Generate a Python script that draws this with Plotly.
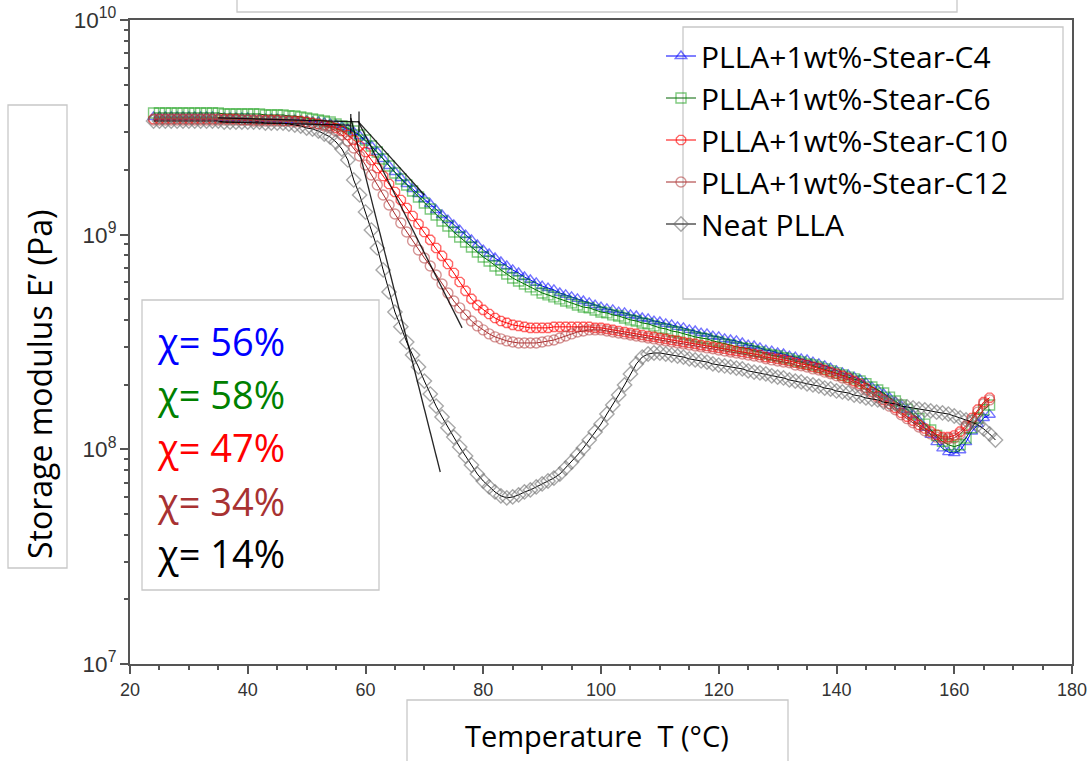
import plotly.graph_objects as go

# ---------------- data ----------------
# temperature grid (deg C)
temperature = [
    24, 25, 26, 27, 28, 29, 30, 31, 32, 33,
    34, 35, 36, 37, 38, 39, 40, 41, 42, 43,
    44, 45, 46, 47, 48, 49, 50, 51, 52, 53,
    54, 55, 56, 57, 58, 59, 60, 61, 62, 63,
    64, 65, 66, 67, 68, 69, 70, 71, 72, 73,
    74, 75, 76, 77, 78, 79, 80, 81, 82, 83,
    84, 85, 86, 87, 88, 89, 90, 91, 92, 93,
    94, 95, 96, 97, 98, 99, 100, 101, 102, 103,
    104, 105, 106, 107, 108, 109, 110, 111, 112, 113,
    114, 115, 116, 117, 118, 119, 120, 121, 122, 123,
    124, 125, 126, 127, 128, 129, 130, 131, 132, 133,
    134, 135, 136, 137, 138, 139, 140, 141, 142, 143,
    144, 145, 146, 147, 148, 149, 150, 151, 152, 153,
    154, 155, 156, 157, 158, 159, 160, 161, 162, 163,
    164, 165, 166,
]
temperature_neat = [
    24, 25, 26, 27, 28, 29, 30, 31, 32, 33,
    34, 35, 36, 37, 38, 39, 40, 41, 42, 43,
    44, 45, 46, 47, 48, 49, 50, 51, 52, 53,
    54, 55, 56, 57, 58, 59, 60, 61, 62, 63,
    64, 65, 66, 67, 68, 69, 70, 71, 72, 73,
    74, 75, 76, 77, 78, 79, 80, 81, 82, 83,
    84, 85, 86, 87, 88, 89, 90, 91, 92, 93,
    94, 95, 96, 97, 98, 99, 100, 101, 102, 103,
    104, 105, 106, 107, 108, 109, 110, 111, 112, 113,
    114, 115, 116, 117, 118, 119, 120, 121, 122, 123,
    124, 125, 126, 127, 128, 129, 130, 131, 132, 133,
    134, 135, 136, 137, 138, 139, 140, 141, 142, 143,
    144, 145, 146, 147, 148, 149, 150, 151, 152, 153,
    154, 155, 156, 157, 158, 159, 160, 161, 162, 163,
    164, 165, 166, 167,
]

# storage modulus E' in units of 1e8 Pa
E_C4 = [
    35.32, 35.32, 35.32, 35.32, 35.32, 35.32, 35.32, 35.32, 35.32, 35.32,
    35.32, 34.95, 34.95, 34.95, 34.95, 34.95, 34.95, 34.57, 34.57, 34.57,
    34.57, 34.57, 34.20, 34.20, 34.20, 33.84, 33.84, 33.48, 33.48, 33.12,
    32.77, 32.42, 31.73, 31.05, 30.08, 28.81, 27.31, 25.89, 24.27, 22.52,
    20.89, 19.58, 18.37, 17.22, 16.33, 15.47, 14.66, 13.90, 13.03, 12.35,
    11.70, 11.09, 10.51, 9.96, 9.45, 8.95, 8.48, 8.13, 7.79, 7.46,
    7.15, 6.85, 6.63, 6.35, 6.15, 5.96, 5.76, 5.64, 5.53, 5.35,
    5.24, 5.13, 5.02, 4.91, 4.81, 4.70, 4.60, 4.51, 4.46, 4.36,
    4.32, 4.23, 4.18, 4.09, 4.05, 3.96, 3.92, 3.84, 3.80, 3.72,
    3.68, 3.60, 3.56, 3.48, 3.45, 3.37, 3.34, 3.27, 3.23, 3.20,
    3.13, 3.06, 3.03, 2.97, 2.90, 2.87, 2.81, 2.78, 2.72, 2.69,
    2.64, 2.61, 2.55, 2.50, 2.45, 2.39, 2.32, 2.27, 2.22, 2.17,
    2.11, 2.04, 1.95, 1.89, 1.81, 1.74, 1.66, 1.59, 1.53, 1.45,
    1.36, 1.26, 1.17, 1.08, 1.01, 0.97, 0.96, 0.99, 1.08, 1.21,
    1.31, 1.40, 1.45,
]
E_C6 = [
    36.87, 36.87, 36.87, 36.87, 36.87, 36.87, 36.87, 36.87, 36.87, 36.87,
    36.87, 36.87, 36.48, 36.48, 36.48, 36.48, 36.48, 36.48, 36.48, 36.09,
    36.09, 36.09, 36.09, 35.70, 35.70, 35.32, 34.95, 34.57, 34.20, 33.84,
    33.48, 32.77, 32.07, 31.39, 30.40, 29.12, 27.61, 25.89, 24.27, 22.52,
    20.89, 19.38, 18.17, 17.04, 15.98, 14.98, 14.05, 13.17, 12.35, 11.58,
    10.97, 10.29, 9.75, 9.24, 8.76, 8.30, 7.87, 7.54, 7.15, 6.85,
    6.56, 6.28, 6.08, 5.89, 5.71, 5.53, 5.35, 5.24, 5.13, 5.02,
    4.91, 4.81, 4.70, 4.60, 4.56, 4.46, 4.36, 4.32, 4.23, 4.18,
    4.09, 4.01, 3.96, 3.88, 3.84, 3.76, 3.68, 3.64, 3.56, 3.52,
    3.45, 3.41, 3.34, 3.30, 3.27, 3.20, 3.16, 3.10, 3.06, 3.00,
    2.97, 2.94, 2.87, 2.84, 2.78, 2.75, 2.72, 2.67, 2.64, 2.58,
    2.55, 2.50, 2.47, 2.42, 2.37, 2.32, 2.27, 2.22, 2.17, 2.13,
    2.08, 2.02, 1.95, 1.89, 1.83, 1.75, 1.68, 1.61, 1.54, 1.46,
    1.39, 1.31, 1.23, 1.16, 1.09, 1.05, 1.03, 1.05, 1.13, 1.26,
    1.40, 1.53, 1.61,
]
E_C10 = [
    34.57, 34.57, 34.57, 34.57, 34.57, 34.57, 34.57, 34.57, 34.57, 34.57,
    34.57, 34.57, 34.57, 34.57, 34.57, 34.20, 34.20, 34.20, 34.20, 34.20,
    34.20, 34.20, 33.84, 33.84, 33.84, 33.84, 33.48, 33.12, 32.77, 32.42,
    32.07, 31.39, 30.40, 29.12, 27.61, 25.89, 24.27, 22.28, 20.45, 18.76,
    17.22, 15.81, 14.51, 13.31, 12.22, 11.21, 10.29, 9.45, 8.67, 7.96,
    7.30, 6.63, 6.02, 5.47, 5.02, 4.70, 4.46, 4.27, 4.09, 3.96,
    3.88, 3.80, 3.76, 3.72, 3.68, 3.68, 3.68, 3.68, 3.72, 3.72,
    3.72, 3.72, 3.72, 3.72, 3.72, 3.68, 3.68, 3.64, 3.60, 3.56,
    3.52, 3.48, 3.45, 3.41, 3.37, 3.34, 3.30, 3.27, 3.23, 3.20,
    3.16, 3.13, 3.10, 3.06, 3.03, 3.00, 2.97, 2.94, 2.90, 2.87,
    2.84, 2.81, 2.78, 2.75, 2.69, 2.67, 2.64, 2.61, 2.58, 2.53,
    2.50, 2.47, 2.42, 2.39, 2.34, 2.29, 2.25, 2.20, 2.15, 2.08,
    2.02, 1.93, 1.85, 1.77, 1.70, 1.63, 1.56, 1.48, 1.42, 1.36,
    1.30, 1.25, 1.21, 1.17, 1.14, 1.14, 1.16, 1.21, 1.29, 1.40,
    1.53, 1.66, 1.74,
]
E_C12 = [
    34.20, 34.20, 34.20, 34.20, 34.20, 34.20, 34.20, 34.20, 34.20, 34.20,
    34.20, 34.20, 34.20, 34.20, 34.20, 34.20, 34.20, 33.84, 33.84, 33.84,
    33.84, 33.84, 33.84, 33.84, 33.48, 33.48, 33.48, 33.12, 32.77, 32.07,
    31.39, 30.40, 29.12, 27.31, 25.33, 23.26, 21.12, 18.97, 17.04, 15.31,
    13.75, 12.48, 11.33, 10.29, 9.34, 8.48, 7.79, 7.15, 6.49, 5.89,
    5.35, 4.91, 4.56, 4.23, 3.96, 3.76, 3.60, 3.45, 3.34, 3.27,
    3.20, 3.16, 3.13, 3.13, 3.13, 3.13, 3.16, 3.20, 3.23, 3.30,
    3.37, 3.45, 3.52, 3.56, 3.60, 3.60, 3.60, 3.56, 3.52, 3.48,
    3.45, 3.41, 3.37, 3.34, 3.30, 3.27, 3.23, 3.20, 3.16, 3.13,
    3.10, 3.06, 3.03, 3.00, 2.97, 2.94, 2.90, 2.87, 2.84, 2.81,
    2.78, 2.75, 2.72, 2.69, 2.64, 2.61, 2.58, 2.55, 2.53, 2.47,
    2.45, 2.42, 2.37, 2.34, 2.29, 2.25, 2.20, 2.15, 2.11, 2.04,
    1.98, 1.89, 1.81, 1.74, 1.66, 1.59, 1.53, 1.45, 1.39, 1.33,
    1.27, 1.22, 1.18, 1.14, 1.12, 1.12, 1.13, 1.18, 1.26, 1.37,
    1.49, 1.63, 1.70,
]
E_neat = [
    33.84, 33.84, 33.84, 33.84, 33.84, 33.84, 33.84, 33.84, 33.84, 33.84,
    33.84, 33.84, 33.48, 33.48, 33.48, 33.48, 33.48, 33.48, 33.48, 33.12,
    33.12, 33.12, 33.12, 32.77, 32.42, 32.07, 31.39, 31.06, 30.40, 29.44,
    28.51, 27.02, 25.06, 22.28, 17.98, 15.31, 12.75, 10.51, 8.67, 6.85,
    5.41, 4.36, 3.72, 3.16, 2.75, 2.42, 2.08, 1.81, 1.59, 1.415,
    1.26, 1.14, 1.025, 0.931, 0.845, 0.767, 0.712, 0.668, 0.633, 0.607,
    0.594, 0.600, 0.613, 0.633, 0.647, 0.668, 0.690, 0.712, 0.735, 0.767,
    0.818, 0.873, 0.941, 1.014, 1.105, 1.205, 1.312, 1.461, 1.609, 1.792,
    1.995, 2.245, 2.50, 2.69, 2.78, 2.81, 2.81, 2.78, 2.75, 2.72,
    2.69, 2.64, 2.61, 2.58, 2.55, 2.50, 2.47, 2.445, 2.42, 2.39,
    2.37, 2.32, 2.29, 2.27, 2.245, 2.20, 2.17, 2.15, 2.105, 2.08,
    2.06, 2.02, 1.995, 1.97, 1.93, 1.91, 1.87, 1.85, 1.83, 1.79,
    1.77, 1.735, 1.715, 1.70, 1.66, 1.645, 1.627, 1.59, 1.575, 1.56,
    1.54, 1.525, 1.51, 1.49, 1.477, 1.46, 1.43, 1.40, 1.37, 1.34,
    1.30, 1.245, 1.18, 1.105,
]
UNIT = 1e8  # values above are in 1e8 Pa

# onset tangent construction lines (T in deg C, E' in Pa)
tangent_base_T = [35.0, 59.0]
tangent_base_E = [3.50e9, 3.35e9]
tangent_base2_T = [35.0, 57.5]
tangent_base2_E = [3.35e9, 3.24e9]
tangent_neat_T = [57.5, 72.7]
tangent_neat_E = [3.50e9, 7.84e7]
tangent_c10_T = [58.9, 76.4]
tangent_c10_E = [3.31e9, 3.68e8]
tangent_c4_T = [58.7, 70.0]
tangent_c4_E = [3.38e9, 1.53e9]
onset_mark1_T = [57.5, 57.5]
onset_mark1_E = [3.65e9, 2.95e9]
onset_mark2_T = [58.9, 58.9]
onset_mark2_E = [3.75e9, 3.00e9]

series_names = ["PLLA+1wt%-Stear-C4", "PLLA+1wt%-Stear-C6", "PLLA+1wt%-Stear-C10",
                "PLLA+1wt%-Stear-C12", "Neat PLLA"]
crystallinity_labels = ["χ= 56%", "χ= 58%", "χ= 47%", "χ= 34%", "χ= 14%"]

# ---------------- figure ----------------
W, H = 1092, 761
ML, MR, MT, MB = 130, 20, 20, 97
PW, PH = W - ML - MR, H - MT - MB
PLOT_LEFT = ML
PLOT_BOTTOM = MT + PH


def px(xp):
    """page pixel x -> paper x"""
    return (xp - PLOT_LEFT) / PW


def py(yp):
    """page pixel y -> paper y"""
    return (PLOT_BOTTOM - yp) / PH


fig = go.Figure()

styles = [
    dict(x=temperature, y=E_C4, sym="triangle-up-open", mcol="rgba(0,0,255,0.55)", lcol="#0000ff", size=10),
    dict(x=temperature, y=E_C6, sym="square-open", mcol="rgba(0,150,0,0.5)", lcol="#006400", size=10),
    dict(x=temperature, y=E_C10, sym="octagon-open", mcol="rgba(255,0,0,0.6)", lcol="#ff0000", size=10),
    dict(x=temperature, y=E_C12, sym="circle-open", mcol="rgba(178,60,60,0.55)", lcol="#a52a2a", size=10),
    dict(x=temperature_neat, y=E_neat, sym="diamond-open", mcol="rgba(110,110,110,0.6)", lcol="#000000", size=11),
]

for i, (name, st) in enumerate(zip(series_names, styles)):
    fig.add_trace(go.Scatter(
        x=st["x"], y=[v * UNIT for v in st["y"]], name=name, mode="lines+markers",
        legendgroup=f"g{i}",
        line=dict(color=st["lcol"], width=1),
        marker=dict(symbol=st["sym"], size=st["size"], color=st["mcol"],
                    line=dict(width=1.4, color=st["mcol"])),
    ))

for tx, ty in [(tangent_base_T, tangent_base_E), (tangent_base2_T, tangent_base2_E),
               (tangent_neat_T, tangent_neat_E), (tangent_c10_T, tangent_c10_E),
               (tangent_c4_T, tangent_c4_E), (onset_mark1_T, onset_mark1_E),
               (onset_mark2_T, onset_mark2_E)]:
    fig.add_trace(go.Scatter(x=tx, y=ty, mode="lines", showlegend=False, hoverinfo="skip",
                             line=dict(color="rgba(0,0,0,0.85)", width=1.3)))

box_line = dict(color="#c8c8c8", width=1.3)
shapes = [
    # legend frame
    dict(type="rect", xref="paper", yref="paper", x0=px(683), x1=px(1063), y0=py(299), y1=py(27), line=box_line),
    # crystallinity box
    dict(type="rect", xref="paper", yref="paper", x0=px(142), x1=px(379), y0=py(590), y1=py(300), line=box_line),
    # y title box
    dict(type="rect", xref="paper", yref="paper", x0=px(8), x1=px(67), y0=py(568), y1=py(105), line=box_line),
    # x title box
    dict(type="rect", xref="paper", yref="paper", x0=px(407), x1=px(788), y0=py(775), y1=py(700), line=box_line),
    # top (cut) box
    dict(type="rect", xref="paper", yref="paper", x0=px(237), x1=px(957), y0=py(12), y1=py(-10), line=box_line),
]

chi_colors = ["#0000ff", "#008000", "#ff0000", "#a83232", "#000000"]
chi_y = [341, 394, 447, 501, 553]
annotations = []
for lab, col, yy in zip(crystallinity_labels, chi_colors, chi_y):
    annotations.append(dict(text=lab, x=px(155), y=py(yy), xref="paper", yref="paper",
                            xanchor="left", yanchor="middle", showarrow=False,
                            font=dict(family="Open Sans", size=38, color=col)))
annotations.append(dict(text="Storage modulus E’ (Pa)", x=px(39), y=py(385), xref="paper", yref="paper",
                        textangle=-90, showarrow=False, xanchor="center", yanchor="middle",
                        font=dict(family="Open Sans", size=32, color="black")))
annotations.append(dict(text="Temperature  T (°C)", x=px(597), y=py(735), xref="paper", yref="paper",
                        showarrow=False, xanchor="center", yanchor="middle",
                        font=dict(family="Open Sans", size=29, color="black")))

axis_common = dict(showline=True, linecolor="#555555", linewidth=2, mirror=True, automargin=False,
                   ticklabeloverflow="allow",
                   showgrid=False, zeroline=False, ticks="outside", ticklen=8, tickwidth=1.5,
                   tickcolor="#555555",
                   tickfont=dict(family="Liberation Sans, Arial", size=18, color="#333333"))

fig.update_layout(
    width=W, height=H,
    margin=dict(l=ML, r=MR, t=MT, b=MB),
    paper_bgcolor="white", plot_bgcolor="white",
    xaxis=dict(range=[20, 180], tickmode="array", tickvals=[20, 40, 60, 80, 100, 120, 140, 160, 180],
               minor=dict(ticks="outside", ticklen=4, dtick=5, tickcolor="#555555"), **axis_common),
    yaxis=dict(type="log", range=[7, 10], dtick=1, exponentformat="power", showexponent="all",
               minor=dict(ticks="outside", ticklen=4, dtick="D1", tickcolor="#555555"), **axis_common),
    legend=dict(x=px(661), y=py(30), xanchor="left", yanchor="top",
                font=dict(family="Open Sans", size=30, color="black"),
                bgcolor="rgba(0,0,0,0)", borderwidth=0, tracegroupgap=0, traceorder="grouped"),
    shapes=shapes,
    annotations=annotations,
)

# remove the default 8px page margin so the figure sits at the window's top-left corner
fig.write_html("out.html", config={"displayModeBar": False},
               post_script="document.body.style.margin='0';")
